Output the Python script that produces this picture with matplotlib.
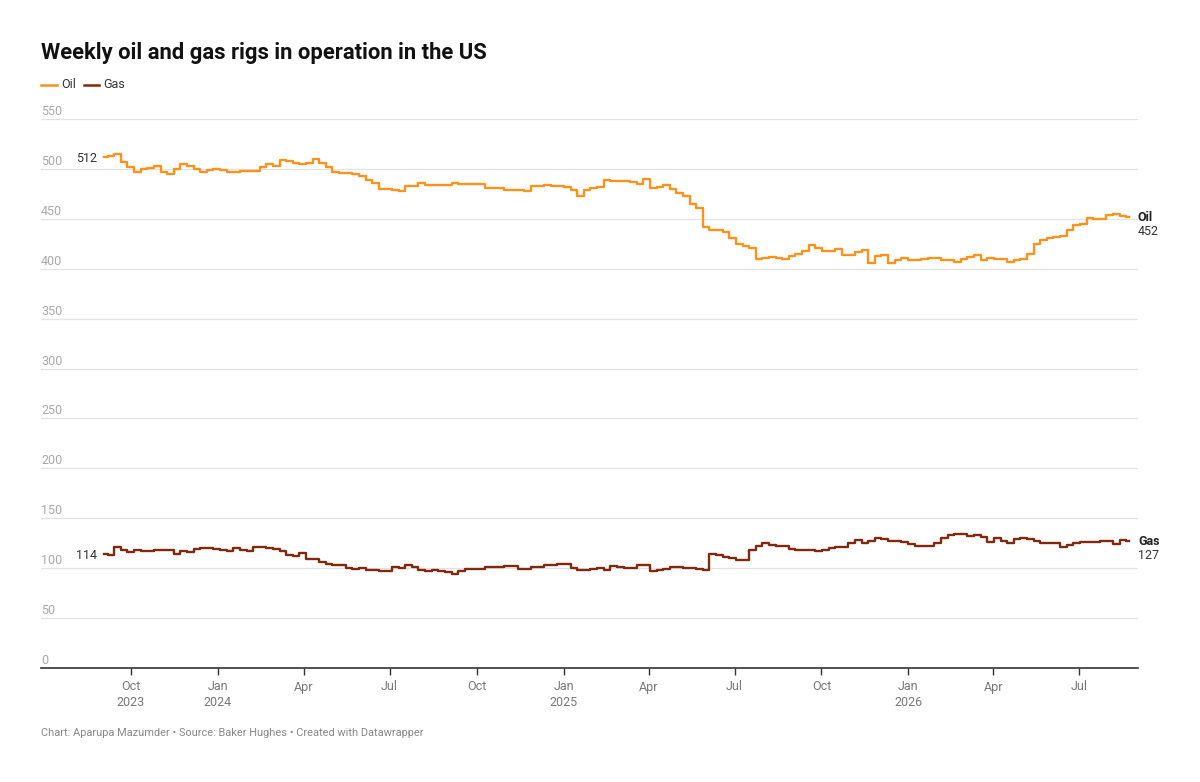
import matplotlib
matplotlib.use('Agg')
import matplotlib.pyplot as plt
import matplotlib.transforms as mtrans
from matplotlib.lines import Line2D
import pandas as pd

# --- DATA ---
START_DATE = '2023-09-03'

oil = [512, 513, 515, 507, 502, 497, 500, 501, 503, 497,
       495, 500, 505, 503, 500, 497, 499, 500, 499, 497,
       497, 498, 498, 498, 502, 505, 503, 509, 508, 506,
       505, 506, 510, 506, 502, 497, 496, 496, 495, 493,
       489, 486, 480, 480, 479, 478, 483, 483, 486, 484,
       484, 484, 484, 486, 485, 485, 485, 485, 481, 481,
       481, 479, 479, 479, 478, 483, 483, 484, 483, 483,
       482, 479, 473, 479, 481, 482, 489, 488, 488, 488,
       487, 485, 490, 481, 482, 484, 480, 476, 473, 465,
       461, 442, 439, 439, 437, 431, 425, 423, 421, 410,
       411, 412, 411, 410, 413, 415, 418, 424, 421, 418,
       418, 420, 414, 414, 417, 419, 406, 413, 414, 406,
       409, 411, 409, 409, 410, 411, 411, 409, 409, 407,
       410, 412, 414, 409, 411, 410, 410, 407, 409, 410,
       415, 425, 429, 431, 432, 433, 439, 444, 445, 451,
       450, 450, 454, 455, 453, 452]

gas = [114, 113, 121, 118, 116, 118, 117, 117, 118, 118,
       118, 114, 117, 116, 119, 120, 120, 119, 118, 117,
       120, 118, 117, 121, 121, 120, 119, 117, 113, 112,
       115, 109, 109, 106, 104, 103, 103, 100, 99, 100,
       98, 98, 97, 97, 101, 100, 103, 101, 98, 97,
       98, 97, 96, 94, 97, 99, 99, 99, 101, 101,
       101, 102, 102, 99, 99, 101, 101, 103, 103, 104,
       104, 100, 98, 98, 99, 100, 98, 102, 101, 100,
       100, 103, 103, 97, 98, 99, 101, 101, 100, 100,
       99, 98, 114, 113, 111, 110, 108, 108, 118, 122,
       125, 123, 122, 122, 119, 118, 118, 118, 117, 118,
       120, 121, 121, 125, 128, 125, 127, 130, 129, 127,
       127, 126, 124, 122, 122, 122, 125, 130, 133, 134,
       134, 132, 133, 131, 126, 130, 127, 125, 129, 130,
       129, 127, 125, 125, 125, 121, 123, 125, 126, 126,
       126, 127, 127, 124, 128, 127]

dates = pd.date_range(START_DATE, periods=len(oil), freq='7D')

y_ticks = [0, 50, 100, 150, 200, 250, 300, 350, 400, 450, 500, 550]
x_tick_dates = ['2023-10-01', '2024-01-01', '2024-04-01', '2024-07-01',
                '2024-10-01', '2025-01-01', '2025-04-01', '2025-07-01',
                '2025-10-01', '2026-01-01', '2026-04-01', '2026-07-01']
x_tick_labels = ['Oct\n2023', 'Jan\n2024', 'Apr', 'Jul', 'Oct', 'Jan\n2025',
                 'Apr', 'Jul', 'Oct', 'Jan\n2026', 'Apr', 'Jul']

OIL_C = '#f7931e'
GAS_C = '#7f2a10'

plt.rcParams['font.family'] = ['Roboto', 'DejaVu Sans']

W, H = 1200, 782
fig = plt.figure(figsize=(W / 100, H / 100), dpi=100)
ax = fig.add_axes([41 / W, (H - 668) / H, (1138 - 41) / W, (668 - 119) / H])

# --- LINES ---
ax.plot(dates, oil, drawstyle='steps-mid', color=OIL_C, lw=1.7, zorder=3)
ax.plot(dates, gas, drawstyle='steps-mid', color=GAS_C, lw=1.7, zorder=3)

ax.set_ylim(0, 550)
ax.set_xlim(pd.Timestamp('2023-06-28'), pd.Timestamp('2026-09-01'))

# gridlines + y labels sitting above them
for v in y_ticks[1:]:
    ax.axhline(v, color='#e2e2e2', lw=0.9, zorder=0)
blend = mtrans.blended_transform_factory(ax.transAxes, ax.transData)
lab_tr = mtrans.offset_copy(blend, fig=fig, x=0, y=4, units='dots')
for v in y_ticks:
    ax.text(0, v, str(v), transform=lab_tr, ha='left', va='baseline',
            fontsize=9, color='#a8a8a8')

ax.set_yticks([])
for s in ['left', 'right', 'top']:
    ax.spines[s].set_visible(False)
ax.spines['bottom'].set_color('#333333')
ax.spines['bottom'].set_linewidth(1.2)

ax.set_xticks(pd.to_datetime(x_tick_dates))
ax.set_xticklabels(x_tick_labels, linespacing=1.2)
ax.tick_params(axis='x', length=5, width=1, color='#333333',
               labelsize=9, labelcolor='#777777', pad=4)

# --- LINE LABELS ---
half_week = pd.Timedelta(days=3.5)
for vals in [oil, gas]:
    ax.annotate(str(vals[0]), xy=(dates[0] - half_week, vals[0]), xytext=(-3, -1),
                textcoords='offset points', ha='right', va='center',
                fontsize=9, color='#333333')

end_tr = mtrans.blended_transform_factory(ax.transAxes, ax.transData)
for name, vals in [('Oil', oil), ('Gas', gas)]:
    ax.annotate(name, xy=(1, vals[-1]), xycoords=end_tr, xytext=(0, -0.5),
                textcoords='offset points', ha='left', va='center',
                fontsize=9, fontweight='bold', color='#222222',
                annotation_clip=False)
    ax.annotate(str(vals[-1]), xy=(1, vals[-1]), xycoords=end_tr, xytext=(0, -10.5),
                textcoords='offset points', ha='left', va='center',
                fontsize=9, color='#333333', annotation_clip=False)

# --- TITLE / LEGEND / FOOTER ---
fig.text(41 / W, 1 - 53 / H, 'Weekly oil and gas rigs in operation in the US',
         fontsize=15.8, fontweight='bold', color='#111111', va='center')

for x0, x1, c, tx, label in [(41, 57, OIL_C, 61, 'Oil'), (84, 99, GAS_C, 103, 'Gas')]:
    fig.add_artist(Line2D([x0 / W, x1 / W], [1 - 85 / H, 1 - 85 / H], color=c, lw=1.8))
    fig.text(tx / W, 1 - 85 / H, label, fontsize=9, color='#333333', va='center')

fig.text(41 / W, 1 - 733 / H,
         'Chart: Aparupa Mazumder \u2022 Source: Baker Hughes \u2022 Created with Datawrapper',
         fontsize=7.9, color='#888888', va='center')

fig.savefig('out.png', dpi=100, facecolor='white')
